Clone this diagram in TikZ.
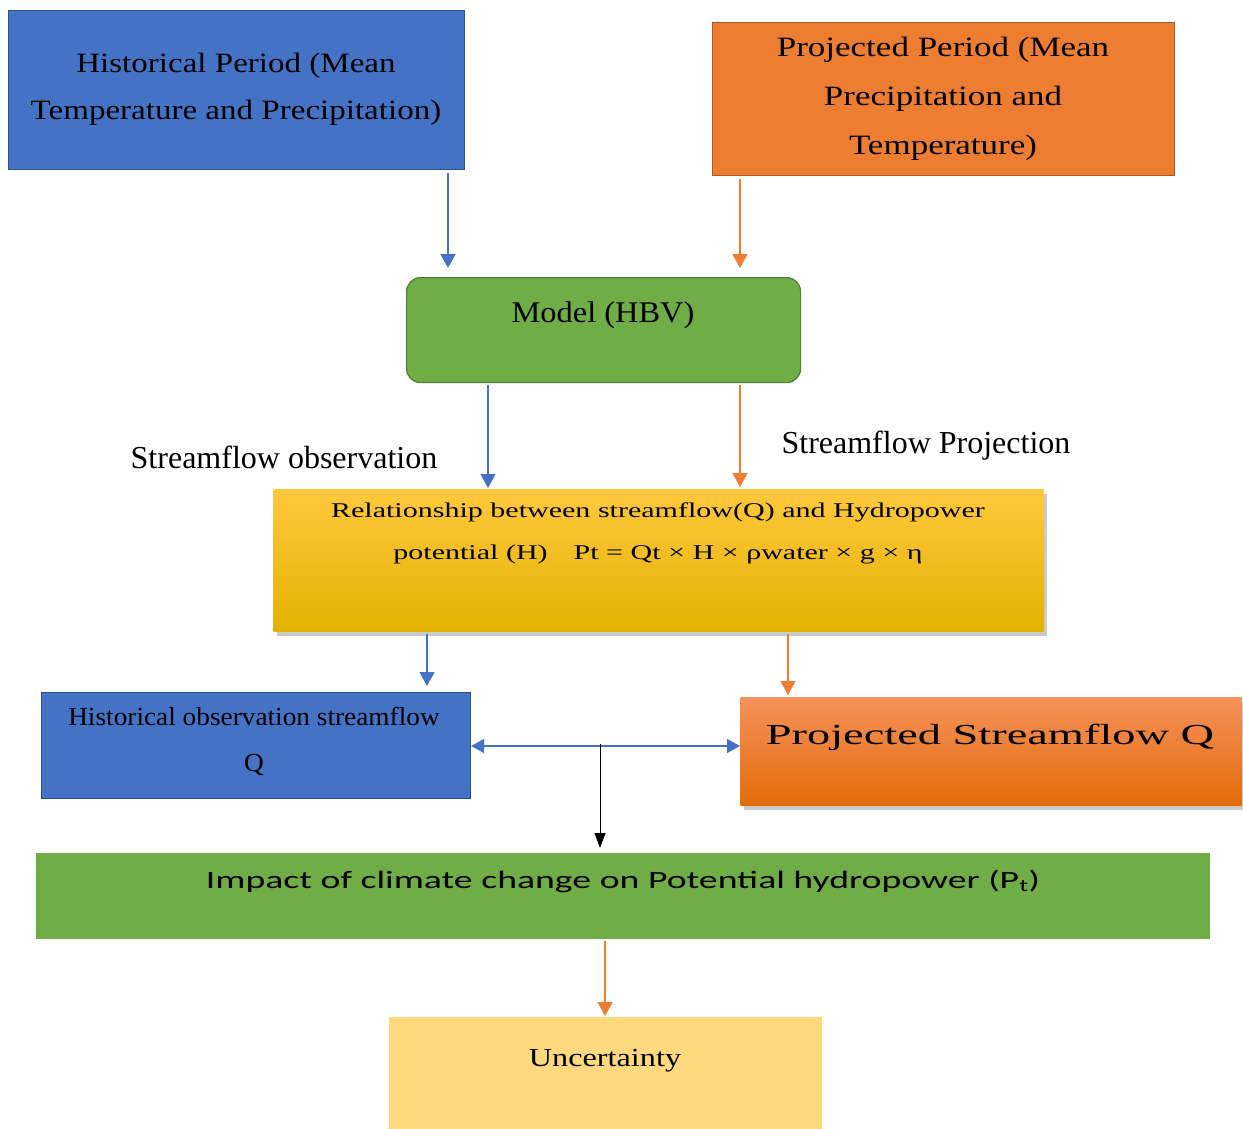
\documentclass[tikz,border=0pt]{standalone}
\usepackage{fontspec}
\setmainfont{Liberation Serif}
\newfontfamily\boxfont[FakeStretch=1.18]{Liberation Serif}
\newfontfamily\projfont[FakeStretch=1.25]{Liberation Serif}
\newfontfamily\modelfont[FakeStretch=1.08]{Liberation Serif}
\newfontfamily\relfont[FakeStretch=1.43]{Liberation Serif}
\newfontfamily\wideserif[FakeStretch=1.6]{Liberation Serif}
\newfontfamily\narrowserif[FakeStretch=1.05]{Liberation Serif}
\newfontfamily\uncfont[FakeStretch=1.24]{Liberation Serif}
\newfontfamily\impactfont[FakeStretch=1.51]{Carlito}
\usetikzlibrary{arrows.meta,shadows,calc}
\definecolor{histblue}{HTML}{4472C4}
\definecolor{histbluedark}{HTML}{2F528F}
\definecolor{projorange}{HTML}{ED7D31}
\definecolor{projorangedark}{HTML}{AE5A21}
\definecolor{modelgreen}{HTML}{70AD47}
\definecolor{modelgreendark}{HTML}{507E32}
\definecolor{uncyellow}{HTML}{FFD97D}

\tikzset{
  box/.style={anchor=north west, inner sep=0pt, line width=1.2pt},
  boxtext/.style={anchor=north, inner sep=0pt, align=center},
  linetext/.style={anchor=base, inner sep=0pt},
  bluearr/.style={draw=histblue, line width=1.3pt, -{Triangle[width=15pt,length=14pt]}},
  orangearr/.style={draw=projorange, line width=1.3pt, -{Triangle[width=15pt,length=14pt]}},
  twoway/.style={draw=histblue, line width=1.3pt, {Triangle[width=14pt,length=13pt]}-{Triangle[width=14pt,length=13pt]}},
  blackarr/.style={draw=black, line width=1pt, -{Triangle[width=11pt,length=15pt]}},
  softshadow/.style={drop shadow={shadow xshift=3pt, shadow yshift=-4pt, opacity=.35, fill=black!60}}
}

\begin{document}
\begin{tikzpicture}[x=1pt,y=-1pt]
\useasboundingbox (0,0) rectangle (1243,1129);

% boxes
\node[box, draw=histbluedark, fill=histblue, minimum width=456pt, minimum height=159pt] (hist) at (8,10) {};
\node[box, draw=projorangedark, fill=projorange, minimum width=462pt, minimum height=153pt] (proj) at (712,22) {};
\node[box, draw=modelgreendark, fill=modelgreen, rounded corners=14pt, minimum width=394pt, minimum height=105pt] (model) at (406,277) {};
\node[box, softshadow, top color={rgb,255:red,255;green,200;blue,62}, middle color={rgb,255:red,255;green,192;blue,0}, bottom color={rgb,255:red,226;green,178;blue,0}, minimum width=770pt, minimum height=142pt] (rel) at (273,489) {};
\node[box, draw=histbluedark, fill=histblue, minimum width=429pt, minimum height=106pt] (histq) at (41,692) {};
\node[box, softshadow, top color={rgb,255:red,244;green,145;blue,90}, bottom color={rgb,255:red,227;green,108;blue,10}, minimum width=501pt, minimum height=108pt] (projq) at (740,697) {};
\node[box, fill=modelgreen, minimum width=1174pt, minimum height=86pt] (impact) at (35,852) {};
\node[box, fill=uncyellow, minimum width=433pt, minimum height=113pt] (unc) at (388,1016) {};

% texts
\node[boxtext, font=\boxfont\fontsize{28}{47}\selectfont] (histtxt) at (236,53) {Historical Period (Mean\\Temperature and Precipitation)};
\node[boxtext, font=\projfont\fontsize{28}{49}\selectfont] (projtxt) at (943,37) {Projected Period (Mean\\Precipitation and\\Temperature)};
\node[boxtext, font=\modelfont\fontsize{30}{36}\selectfont] (modeltxt) at (603,301) {Model (HBV)};
\node[boxtext, font=\relfont\fontsize{21}{42}\selectfont] (reltxt) at (658,503) {Relationship between streamflow(Q) and Hydropower\\potential (H)\hspace{26pt}Pt = Qt × H × ρwater × g × η};
\node[boxtext, font=\narrowserif\fontsize{26}{46}\selectfont] (histqtxt) at (254,707) {Historical observation streamflow\\Q};
\node[linetext, font=\wideserif\fontsize{29}{34}\selectfont] (projqtxt) at (990,744) {Projected Streamflow Q};
\node[linetext, font=\impactfont\fontsize{25}{30}\selectfont] (impacttxt) at (623,888) {Impact of climate change on Potential hydropower (P\textsubscript{t})};
\node[linetext, font=\uncfont\fontsize{26}{30}\selectfont] (unctxt) at (605,1066) {Uncertainty};
\node[linetext, font=\fontsize{32}{36}\selectfont] (obslabel) at (284,468) {Streamflow observation};
\node[linetext, font=\fontsize{32}{36}\selectfont] (projlabel) at (926,453) {Streamflow Projection};

% connectors
\draw[bluearr, shorten <=3pt, shorten >=9pt] (448,0 |- hist.south) -- (448,0 |- model.north);
\draw[orangearr, shorten <=3pt, shorten >=9pt] (740,0 |- proj.south) -- (740,0 |- model.north);
\draw[bluearr, shorten <=2pt, shorten >=1pt] (488,0 |- model.south) -- (488,0 |- rel.north);
\draw[orangearr, shorten <=2pt, shorten >=2pt] (740,0 |- model.south) -- (740,0 |- rel.north);
\draw[bluearr, shorten <=2pt, shorten >=6pt] (427,0 |- rel.south) -- (427,0 |- histq.north);
\draw[orangearr, shorten <=2pt, shorten >=2pt] (788,0 |- rel.south) -- (788,0 |- projq.north);
\draw[twoway] (histq.east |- 0,746) -- (projq.west |- 0,746);
\coordinate (split) at (600,744);
\draw[blackarr, shorten >=4pt] (split) -- (split |- impact.north);
\draw[orangearr, shorten <=2pt] (unc.north |- impact.south) -- (unc.north);
\end{tikzpicture}
\end{document}
